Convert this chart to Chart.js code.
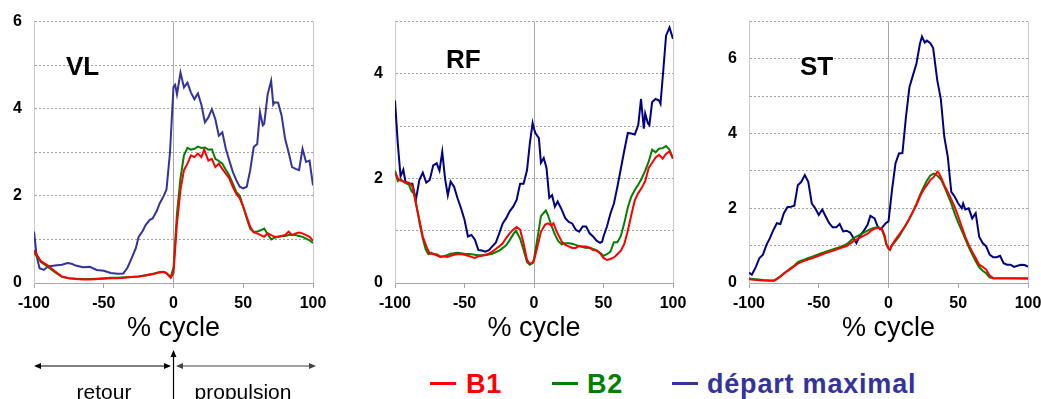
<!DOCTYPE html>
<html>
<head>
<meta charset="utf-8">
<script src="https://cdn.jsdelivr.net/npm/chart.js@4.4.1/dist/chart.umd.min.js"></script>
<style>
  body { margin: 0; width: 1041px; height: 399px; background: #fff; position: relative; overflow: hidden;
         font-family: 'Liberation Sans', Arial, sans-serif; }
  canvas.panel { position: absolute; top: 0; }
  .name { position: absolute; font-weight: bold; font-size: 26px; line-height: 26px; color: #000; }
  .leg-dash { position: absolute; top: 382px; width: 26px; height: 3px; }
  .leg-text { position: absolute; top: 371px; font-weight: bold; font-size: 27px; line-height: 27px; letter-spacing: 0.8px; }
  .phase { position: absolute; top: 381px; font-size: 21px; line-height: 21px; color: #000; transform: translateX(-50%); }
  svg { position: absolute; left: 0; top: 340px; }
</style>
</head>
<body>
<canvas id="vl" class="panel" width="333" height="345" style="left:0px"></canvas>
<canvas id="rf" class="panel" width="332" height="345" style="left:361px"></canvas>
<canvas id="st" class="panel" width="333" height="345" style="left:715px"></canvas>

<div class="name" style="left:66px; top:53px">VL</div>
<div class="name" style="left:446px; top:46px">RF</div>
<div class="name" style="left:800px; top:53px">ST</div>

<div class="leg-dash" style="left:430px; background:#ff0000"></div>
<div class="leg-text" style="left:466px; color:#ff0000">B1</div>
<div class="leg-dash" style="left:552px; background:#008000"></div>
<div class="leg-text" style="left:587px; color:#008000">B2</div>
<div class="leg-dash" style="left:672px; background:#333399"></div>
<div class="leg-text" style="left:707px; color:#333399">départ maximal</div>

<svg width="330" height="59">
  <line x1="38" y1="26" x2="167" y2="26" stroke="#000" stroke-width="1.2"/>
  <polygon points="34,26 41,23 41,29" fill="#000"/>
  <polygon points="171,26 164,23 164,29" fill="#000"/>
  <line x1="180" y1="26" x2="312" y2="26" stroke="#444" stroke-width="1.2"/>
  <polygon points="176,26 183,23 183,29" fill="#444"/>
  <polygon points="316,26 309,23 309,29" fill="#444"/>
  <line x1="173.5" y1="15" x2="173.5" y2="59" stroke="#000" stroke-width="1.2"/>
  <polygon points="173.5,10 170.5,17 176.5,17" fill="#000"/>
</svg>
<div class="phase" style="left:104px">retour</div>
<div class="phase" style="left:243px">propulsion</div>

<script>
// % cycle (x) vs activity (y)
const vlB1 = [[-100,0.75],[-95,0.5],[-90,0.4],[-85,0.27],[-80,0.15],[-75,0.11],[-70,0.09],[-65,0.08],[-60,0.08],[-55,0.09],[-50,0.1],[-45,0.11],[-40,0.11],[-35,0.12],[-30,0.14],[-25,0.15],[-20,0.17],[-15,0.2],[-10,0.24],[-7,0.25],[-5,0.22],[-2,0.12],[0,0.23],[2.5,1.37],[5,2.13],[7.5,2.59],[10,2.74],[12.5,2.93],[15,2.89],[17.5,2.97],[20,2.89],[22,3.06],[25,2.81],[27.5,2.85],[30,2.66],[32.5,2.74],[35,2.62],[37.5,2.51],[40,2.4],[42.5,2.21],[45,2.05],[47.5,1.94],[50,1.75],[52.5,1.52],[55,1.29],[57.5,1.16],[60,1.14],[62.5,1.1],[65,1.06],[67.5,1.14],[70,1.1],[72.5,1.06],[75,1.06],[77.5,1.08],[80,1.1],[82.5,1.18],[85,1.1],[87.5,1.14],[90,1.16],[92.5,1.14],[95,1.1],[97.5,1.06],[100,0.97]];
const vlB2 = [[-100,0.7],[-95,0.48],[-90,0.37],[-85,0.25],[-80,0.14],[-75,0.11],[-70,0.1],[-65,0.09],[-60,0.09],[-55,0.1],[-50,0.11],[-45,0.12],[-40,0.12],[-35,0.13],[-30,0.14],[-25,0.15],[-20,0.18],[-15,0.21],[-10,0.25],[-7,0.26],[-5,0.23],[-2,0.14],[0,0.35],[2.5,1.6],[5,2.4],[7.5,2.93],[10,3.1],[12.5,3.06],[15,3.08],[17.5,3.13],[20,3.1],[22.5,3.11],[25,3.06],[27.5,3.07],[30,2.85],[32.5,2.8],[35,2.74],[37.5,2.6],[40,2.47],[42.5,2.28],[45,2.09],[47.5,2],[50,1.75],[52.5,1.48],[55,1.24],[57.5,1.17],[60,1.18],[62.5,1.21],[65,1.25],[67.5,1.12],[70,1],[72.5,1.04],[75,1.06],[77.5,1.08],[80,1.08],[82.5,1.1],[85,1.1],[87.5,1.1],[90,1.08],[92.5,1.06],[95,1.02],[97.5,0.98],[100,0.92]];
const vlDep = [[-100,1.18],[-98,0.6],[-96,0.34],[-93,0.3],[-90,0.38],[-85,0.4],[-80,0.42],[-76,0.46],[-73,0.44],[-70,0.4],[-65,0.36],[-60,0.37],[-55,0.3],[-50,0.28],[-45,0.23],[-40,0.21],[-36,0.22],[-33,0.35],[-30,0.57],[-27,0.8],[-25,1.06],[-22,1.2],[-20,1.33],[-17,1.45],[-15,1.48],[-12,1.65],[-10,1.82],[-7,2],[-5,2.15],[-2.5,3],[0,4.5],[1.2,4.55],[2.5,4.33],[5,4.83],[7.5,4.49],[10,4.6],[12.5,4.37],[15,4.22],[17.5,4.35],[20,4.09],[22.5,3.69],[25,3.8],[27.5,3.99],[30,3.76],[32.5,3.38],[35,3.46],[37.5,3.08],[40,2.81],[42.5,2.55],[45,2.36],[47.5,2.21],[50,2.17],[52.5,2.21],[55,2.59],[57.5,3.12],[60,3.19],[62,3.92],[64,3.62],[65,3.65],[67.5,4.33],[70,4.64],[71.5,4.1],[72.5,4.15],[75,4.14],[77.5,3.84],[80,3.31],[82.5,3],[85,2.66],[87.5,2.62],[90,2.59],[92.5,3.08],[95,2.78],[97.5,2.81],[100,2.24]];

const rfB1 = [[-100,2.12],[-97.5,1.98],[-95,1.95],[-92.5,1.93],[-90,1.92],[-87.5,1.85],[-85,1.52],[-82.5,1.21],[-80,0.89],[-77.5,0.7],[-75,0.56],[-72.5,0.56],[-70,0.53],[-67.5,0.5],[-65,0.51],[-62.5,0.5],[-60,0.52],[-57.5,0.54],[-55,0.55],[-52.5,0.55],[-50,0.54],[-47.5,0.52],[-45,0.5],[-42.5,0.48],[-40,0.51],[-37.5,0.52],[-35,0.54],[-32.5,0.56],[-30,0.6],[-27.5,0.65],[-25,0.7],[-22.5,0.76],[-20,0.86],[-17.5,0.95],[-15,1.02],[-12.5,1.07],[-10,1.02],[-7.5,0.76],[-5,0.44],[-3,0.37],[-1,0.39],[0,0.43],[2.5,0.7],[5,0.98],[8,1.12],[10,1.14],[12.5,1.1],[14,1.14],[16,1],[17.5,0.92],[20,0.79],[22.5,0.73],[25,0.7],[27.5,0.67],[30,0.67],[32.5,0.71],[35,0.7],[37.5,0.7],[40,0.67],[42.5,0.63],[45,0.62],[47.5,0.57],[50,0.48],[52.5,0.44],[55,0.46],[57.5,0.49],[60,0.55],[62.5,0.62],[65,0.75],[67.5,1],[70,1.3],[72.5,1.58],[75,1.72],[77.5,1.82],[80,1.95],[82.5,2.2],[85,2.3],[87.5,2.4],[90,2.45],[92.5,2.38],[95,2.47],[97.5,2.52],[100,2.38]];
const rfB2 = [[-100,2.15],[-98,1.95],[-96,1.98],[-93,1.92],[-90,1.88],[-88,1.75],[-86,1.7],[-84,1.4],[-82,1.1],[-80,0.85],[-78,0.65],[-76,0.55],[-74,0.58],[-72,0.55],[-70,0.55],[-67,0.5],[-64,0.52],[-60,0.56],[-55,0.58],[-50,0.56],[-45,0.55],[-40,0.53],[-35,0.53],[-30,0.56],[-25,0.62],[-20,0.72],[-17.5,0.82],[-15,0.93],[-13,1],[-10,0.85],[-7.5,0.63],[-5,0.4],[-3,0.35],[-1,0.38],[0,0.46],[3,0.94],[5,1.28],[8.5,1.39],[10,1.3],[12.5,1.1],[15,0.93],[17.5,0.8],[20,0.74],[22.5,0.76],[25,0.76],[27.5,0.75],[30,0.73],[32.5,0.7],[35,0.69],[37.5,0.67],[40,0.68],[42.5,0.65],[45,0.63],[47.5,0.58],[50,0.52],[52.5,0.55],[55,0.6],[57.5,0.78],[60,0.78],[62.5,0.9],[65,1.15],[67.5,1.45],[70,1.65],[72.5,1.78],[75,1.88],[77.5,2],[80,2.15],[82.5,2.32],[85,2.55],[87.5,2.5],[90,2.57],[92.5,2.58],[95,2.62],[97.5,2.55],[100,2.38]];
const rfDep = [[-100,3.49],[-98,2.67],[-96,2.04],[-94,2.17],[-92.5,1.94],[-90,1.9],[-87.5,1.9],[-85,1.59],[-82.5,1.97],[-80,2.11],[-77.5,1.92],[-75,1.97],[-72.5,2.25],[-70,2.29],[-68,2.15],[-66,2.51],[-64,2],[-62,1.68],[-60,1.94],[-57.5,1.84],[-55,1.62],[-52.5,1.43],[-50,1.21],[-47.5,0.89],[-45,0.92],[-42.5,0.83],[-40,0.63],[-37.5,0.62],[-35,0.6],[-32.5,0.63],[-30,0.7],[-27.5,0.77],[-25,0.95],[-22.5,1.14],[-20,1.24],[-17.5,1.37],[-15,1.46],[-12.5,1.59],[-10,1.9],[-7.5,1.9],[-5,2.16],[-3,2.67],[-1,3.06],[0,2.95],[1,2.87],[3.5,2.77],[5,2.3],[7,2.39],[9,2.2],[11,1.63],[13,1.68],[15,1.46],[17,1.56],[20,1.4],[22.5,1.24],[25,1.17],[27.5,1.14],[30,1.02],[32.5,0.98],[35,1.08],[37.5,1.08],[40,0.95],[42.5,0.89],[45,0.81],[47.5,0.77],[49,0.79],[50,0.89],[52.5,1.08],[55,1.33],[57.5,1.52],[60,1.84],[62.5,2.19],[65,2.54],[67.5,2.87],[70,2.86],[72.5,2.84],[75,3.02],[77,3.52],[79,2.95],[80,3.24],[82,3.05],[83,3.02],[85,3.46],[87.5,3.52],[90,3.49],[91,3.43],[93,4.06],[95,4.73],[97.5,4.89],[100,4.67]];

const stB1 = [[-100,0.1],[-95,0.08],[-90,0.07],[-85,0.06],[-82,0.06],[-80,0.1],[-77.5,0.17],[-75,0.25],[-72.5,0.32],[-70,0.38],[-67.5,0.45],[-65,0.52],[-62.5,0.56],[-60,0.6],[-57.5,0.63],[-55,0.66],[-50,0.73],[-45,0.8],[-40,0.86],[-35,0.93],[-30,0.99],[-25,1.12],[-20,1.22],[-15,1.32],[-12.5,1.4],[-10,1.45],[-7.5,1.48],[-5,1.47],[-3,1.3],[-1.5,1.05],[0,0.93],[1,0.89],[2.5,1.02],[5,1.16],[7.5,1.29],[10,1.42],[12.5,1.56],[15,1.73],[17.5,1.91],[20,2.09],[22.5,2.31],[25,2.49],[27.5,2.62],[30,2.76],[32.5,2.84],[35,2.98],[36,2.95],[37.5,2.84],[40,2.62],[42.5,2.44],[45,2.24],[47.5,2.03],[50,1.78],[52.5,1.51],[55,1.24],[57.5,1.02],[60,0.84],[62.5,0.67],[65,0.49],[67.5,0.43],[70,0.36],[72.5,0.2],[75,0.13],[80,0.13],[90,0.13],[100,0.12]];
const stB2 = [[-100,0.12],[-95,0.1],[-90,0.08],[-85,0.07],[-82,0.07],[-80,0.12],[-77.5,0.18],[-75,0.26],[-72.5,0.33],[-70,0.4],[-67.5,0.47],[-65,0.56],[-62.5,0.6],[-60,0.63],[-57.5,0.67],[-55,0.7],[-50,0.77],[-45,0.84],[-40,0.9],[-35,0.96],[-30,1.04],[-25,1.2],[-20,1.3],[-15,1.4],[-12.5,1.45],[-10,1.48],[-7.5,1.49],[-5,1.45],[-3,1.25],[-1.5,1.02],[0,0.92],[1,0.89],[2.5,1],[5,1.12],[7.5,1.24],[10,1.4],[12.5,1.55],[15,1.72],[17.5,1.91],[20,2.12],[22.5,2.35],[25,2.55],[27.5,2.74],[30,2.88],[32.5,2.93],[34,2.9],[35,2.87],[37.5,2.78],[40,2.58],[42.5,2.36],[45,2.13],[47.5,1.85],[50,1.62],[52.5,1.4],[55,1.18],[57.5,0.96],[60,0.77],[62.5,0.58],[65,0.42],[67.5,0.33],[70,0.26],[72.5,0.15],[75,0.13],[100,0.12]];
const stDep = [[-100,0.28],[-98,0.22],[-96,0.36],[-95,0.44],[-92.5,0.67],[-90,0.76],[-87.5,1.02],[-85,1.2],[-82.5,1.42],[-80,1.6],[-77.5,1.58],[-75,1.87],[-72.5,2.03],[-70,2.04],[-67.5,2.07],[-65,2.62],[-62.5,2.71],[-60,2.89],[-57.5,2.71],[-55,2.13],[-52.5,2],[-50,1.82],[-47.5,1.97],[-45,1.78],[-42.5,1.6],[-40,1.49],[-37.5,1.49],[-35,1.58],[-32.5,1.38],[-30,1.4],[-27.5,1.35],[-25,1.2],[-23,1.07],[-21,1.23],[-18,1.38],[-15,1.56],[-13,1.8],[-10,1.73],[-8,1.53],[-6,1.44],[-4,1.51],[-2,1.6],[0,1.65],[2.5,2.49],[5,3.2],[7.5,3.47],[10,3.48],[12.5,4.44],[15,5.24],[17.5,5.56],[20,5.87],[22.5,6.4],[24,6.6],[26,6.44],[27.5,6.49],[30,6.42],[32,6.29],[35,5.42],[37.5,4.93],[40,3.91],[42.5,3.38],[45,2.44],[47.5,2.31],[50,2.13],[52.5,2],[53.5,2.13],[55,1.97],[57.5,2],[60,1.73],[62.5,1.87],[65,1.24],[67.5,1.07],[70,0.98],[72.5,0.76],[75,0.69],[77.5,0.69],[80,0.73],[82.5,0.53],[85,0.49],[87.5,0.49],[90,0.43],[92.5,0.46],[95,0.49],[97.5,0.48],[100,0.44]];

const xTicks = [-100, -50, 0, 50, 100];
const RED = '#ff0000', GREEN = '#008000';
const FONT = "'Liberation Sans', Arial, sans-serif";

function makePanel(id, yMax, b1, b2, dep, depColor, rightPad) {
  new Chart(document.getElementById(id), {
    type: 'line',
    data: {
      datasets: [
        { data: b1, borderColor: RED },
        { data: b2, borderColor: GREEN },
        { data: dep, borderColor: depColor }
      ]
    },
    options: {
      responsive: false,
      animation: false,
      devicePixelRatio: 1,
      layout: { padding: { top: 18, right: rightPad, left: 0, bottom: 0 } },
      elements: {
        line: { borderWidth: 2, tension: 0 },
        point: { radius: 0 }
      },
      plugins: { legend: { display: false }, tooltip: { enabled: false } },
      scales: {
        x: {
          type: 'linear', min: -100, max: 100,
          afterBuildTicks: s => { s.ticks = xTicks.map(v => ({ value: v })); },
          afterFit: s => { s.height = 62; },
          ticks: { color: '#000', padding: 6, maxRotation: 0, autoSkip: false,
                   font: { family: FONT, size: 16, weight: 'bold' } },
          grid: {
            color: ctx => {
              const v = ctx.tick ? ctx.tick.value : null;
              if (v === 0) return '#a6a6a6';
              if (v === -100 || v === 100) return '#c8c8c8';
              return 'rgba(0,0,0,0)';
            },
            tickColor: '#a6a6a6', tickLength: 5
          },
          border: { color: '#a6a6a6' },
          title: { display: true, text: '% cycle', color: '#000', padding: 0,
                   font: { family: FONT, size: 27 } }
        },
        y: {
          min: 0, max: yMax,
          afterFit: s => { s.width = 34; },
          ticks: { stepSize: 1, color: '#000', padding: 12,
                   callback: v => (v % 2 === 0 ? v : ''),
                   font: { family: FONT, size: 16, weight: 'bold' } },
          grid: { color: '#a0a0a0', drawTicks: false },
          border: { color: '#c8c8c8', dash: [2, 2] }
        }
      }
    }
  });
}

makePanel('vl', 6, vlB1, vlB2, vlDep, '#333399', 20);
makePanel('rf', 5, rfB1, rfB2, rfDep, '#000080', 20);
makePanel('st', 7, stB1, stB2, stDep, '#000080', 20);
</script>
</body>
</html>
